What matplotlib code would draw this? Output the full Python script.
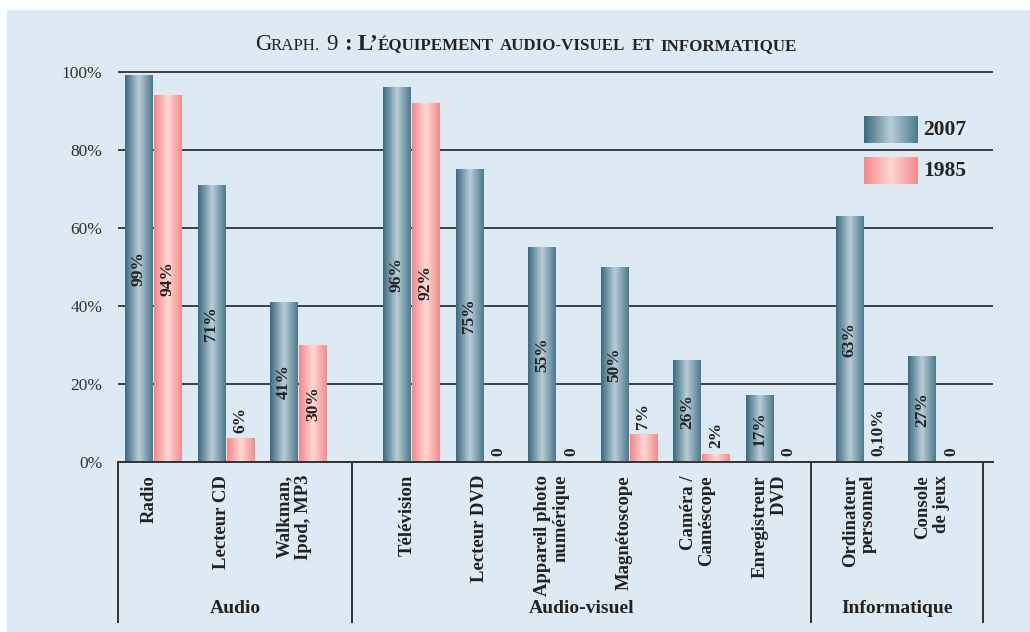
import numpy as np
import matplotlib.pyplot as plt
import matplotlib.transforms as mtransforms
from matplotlib.colors import LinearSegmentedColormap
from matplotlib.patches import Rectangle

plt.rcParams['font.family'] = ['Liberation Serif', 'DejaVu Serif']

# --- Data ---
groups = ["Audio", "Audio-visuel", "Informatique"]
audio_items = ["Radio", "Lecteur CD", "Walkman,\nIpod, MP3"]
av_items = ["Télévision", "Lecteur DVD", "Appareil photo\nnumérique", "Magnétoscope",
            "Caméra /\nCaméscope", "Enregistreur\nDVD"]
info_items = ["Ordinateur\npersonnel", "Console\nde jeux"]

values_2007 = [99, 71, 41, 96, 75, 55, 50, 26, 17, 63, 27]
values_1985 = [94, 6, 30, 92, 0, 0, 7, 2, 0, 0.1, 0]
labels_2007 = ["99%", "71%", "41%", "96%", "75%", "55%", "50%", "26%", "17%", "63%", "27%"]
labels_1985 = ["94%", "6%", "30%", "92%", "0", "0", "7%", "2%", "0", "0,10%", "0"]
y_ticks = [0, 20, 40, 60, 80, 100]
y_tick_labels = ["0%", "20%", "40%", "60%", "80%", "100%"]

# --- Layout / style ---
BG = "#ddeaf4"
LINE = "#333333"
TXT = "#222222"
group_start = [0, 3.56, 9.80]
separators = [-0.494, 2.745, 9.07, 11.44]
bar_w = 0.38
offset = 0.2

items = [audio_items, av_items, info_items]
x = np.concatenate([s + np.arange(len(g)) for s, g in zip(group_start, items)])
names = audio_items + av_items + info_items

fig = plt.figure(figsize=(10.3, 6.32), dpi=100, facecolor="white")
# light blue panel behind everything
fig.patches.append(Rectangle((7 / 1030, 0), 1, 622 / 632, transform=fig.transFigure,
                             facecolor=BG, edgecolor="none", zorder=-10))
ax = fig.add_axes([117.5 / 1030, 170 / 632, 875.5 / 1030, 393.9 / 632])
ax.set_facecolor(BG)

# gradient fills (dark edges, light centre)
cmap07 = LinearSegmentedColormap.from_list("c07", ["#3a6a7f", "#b9cdd7", "#4a798d"])
cmap85 = LinearSegmentedColormap.from_list("c85", ["#f4878a", "#fdd8d3", "#f4898b"])
grad = np.linspace(0, 1, 256).reshape(1, -1)


def shade(bars, cmap):
    for b in bars:
        x0, w, h = b.get_x(), b.get_width(), b.get_height()
        b.set_facecolor("none")
        if h <= 0:
            continue
        ax.imshow(grad, cmap=cmap, extent=[x0, x0 + w, 0, h], aspect="auto",
                  interpolation="bilinear", zorder=2)


bars07 = ax.bar(x - offset, values_2007, width=bar_w, edgecolor="none", zorder=2)
bars85 = ax.bar(x + offset, values_1985, width=bar_w, edgecolor="none", zorder=2)
shade(bars07, cmap07)
shade(bars85, cmap85)

# value labels (rotated)
for xs, vals, labs in [(x - offset, values_2007, labels_2007),
                       (x + offset, values_1985, labels_1985)]:
    for xi, v, lab in zip(xs, vals, labs):
        if v >= 10:
            ax.text(xi, v / 2, lab, rotation=90, ha="center", va="center",
                    fontsize=12.5, fontweight="bold", color=TXT, zorder=4)
        else:
            ax.text(xi, v + 1.5, lab, rotation=90, ha="center", va="bottom",
                    fontsize=12.5, fontweight="bold", color=TXT, zorder=4)

# axes styling
ax.set_xticks([])
ax.set_yticks(y_ticks)
ax.set_yticklabels(y_tick_labels)
ax.tick_params(axis="y", length=0, pad=11, labelsize=12.5, labelcolor="#333333")
ax.yaxis.grid(True, color=LINE, linewidth=1.3)
ax.set_axisbelow(True)
for s in ["top", "left", "right"]:
    ax.spines[s].set_visible(False)
ax.spines["bottom"].set_color(LINE)
ax.spines["bottom"].set_linewidth(1.4)

# category labels, group separators and group names under the axis
trans = mtransforms.blended_transform_factory(ax.transData, ax.transAxes)
for xi, name in zip(x, names):
    ax.text(xi - 0.06, -0.033, name, rotation=90, ha="center", va="top",
            multialignment="right", transform=trans, fontsize=13.5,
            fontweight="bold", color=TXT, linespacing=1.1)
for s in separators:
    ax.plot([s, s], [0, -0.406], transform=trans, clip_on=False, color=LINE, lw=1.4)
for i, g in enumerate(groups):
    ax.text((separators[i] + separators[i + 1]) / 2, -0.371, g, transform=trans,
            ha="center", va="center", fontsize=14, fontweight="bold", color=TXT)

# legend drawn by hand (no frame)
ax.imshow(grad, cmap=cmap07, extent=[0.8527, 0.9143, 0.810, 0.878],
          transform=ax.transAxes, aspect="auto", interpolation="bilinear", zorder=3)
ax.imshow(grad, cmap=cmap85, extent=[0.8527, 0.9143, 0.706, 0.774],
          transform=ax.transAxes, aspect="auto", interpolation="bilinear", zorder=3)
ax.text(0.920, 0.843, "2007", transform=ax.transAxes, va="center", ha="left",
        fontsize=15.5, fontweight="bold", color=TXT)
ax.text(0.920, 0.739, "1985", transform=ax.transAxes, va="center", ha="left",
        fontsize=15.5, fontweight="bold", color=TXT)
ax.set_xlim(-0.494, 11.58)
ax.set_ylim(0, 101)

# title in fake small caps, pieces laid out one after another
title_parts = [("G", 16.5, "normal"), ("RAPH.", 12.2, "normal"), (" ", 0, ""),
               ("9", 16.5, "normal"), (" ", 0, ""), (":", 16.5, "bold"), (" ", 0, ""),
               ("L’", 16.5, "bold"), ("ÉQUIPEMENT", 12.2, "bold"), (" ", 0, ""),
               ("AUDIO-VISUEL", 12.2, "bold"), (" ", 0, ""), ("ET", 12.2, "bold"),
               (" ", 0, ""), ("INFORMATIQUE", 12.2, "bold")]
renderer = fig.canvas.get_renderer()
placed = []
cursor = 0
for s, size, weight in title_parts:
    if s == " ":
        cursor += 6
        continue
    t = fig.text(0, 1 - 50 / 632, s, fontsize=size, fontweight=weight,
                 va="baseline", ha="left", color=TXT)
    placed.append((t, cursor))
    cursor += t.get_window_extent(renderer).width
start = 525.5 - cursor / 2
for t, c in placed:
    t.set_x((start + c) / 1030)

plt.savefig("out.png", dpi=100, facecolor="white")
